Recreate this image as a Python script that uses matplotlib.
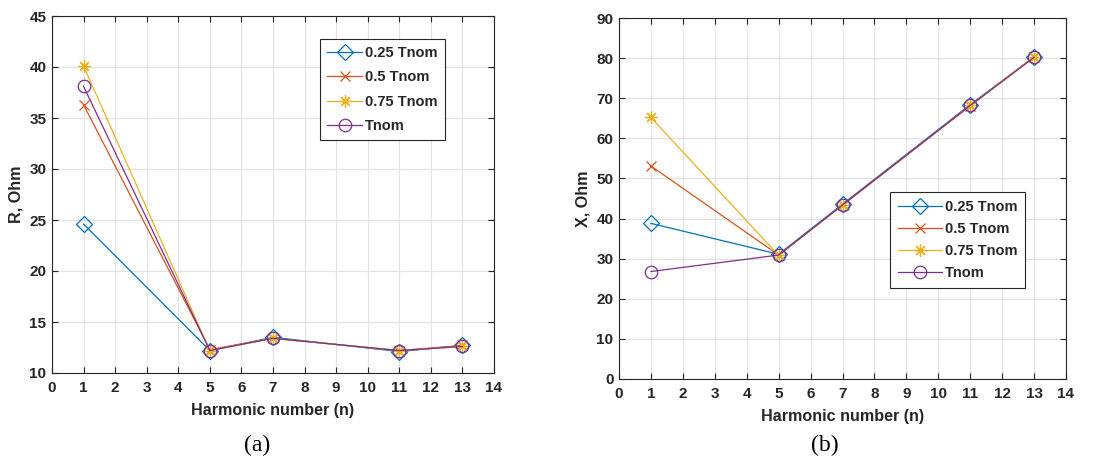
"""Harmonic resistance and reactance for several loading levels."""

import matplotlib
matplotlib.use("Agg")
import matplotlib.pyplot as plt

harmonics = [1, 5, 7, 11, 13]
labels = ["0.25 Tnom", "0.5 Tnom", "0.75 Tnom", "Tnom"]

r_025 = [24.6, 12.2, 13.5, 12.1, 12.7]
r_050 = [36.3, 12.3, 13.4, 12.2, 12.7]
r_075 = [40.1, 12.2, 13.4, 12.2, 12.6]
r_100 = [38.1, 12.2, 13.4, 12.2, 12.6]

x_025 = [38.8, 31.1, 43.6, 68.4, 80.3]
x_050 = [53.1, 30.9, 43.3, 68.1, 80.2]
x_075 = [65.2, 30.8, 43.4, 68.2, 80.4]
x_100 = [26.8, 30.9, 43.4, 68.2, 80.2]

COLORS = ["#0072BD", "#D95319", "#EDB120", "#7E2F8E"]
MARKERS = ["D", "x", (8, 2, 0), "o"]
MSIZES = [8, 7, 9, 9]
TEXT = "#262626"

plt.rcParams["font.family"] = ["Liberation Sans", "DejaVu Sans"]
plt.rcParams["font.weight"] = "bold"


def style_axes(ax, ylim, yticks, ylabel):
    ax.set_xlim(0, 14)
    ax.set_xticks(range(0, 15))
    ax.set_ylim(*ylim)
    ax.set_yticks(yticks)
    ax.grid(True, color="#e3e3e3", linewidth=0.9)
    ax.set_axisbelow(True)
    ax.tick_params(direction="in", top=True, right=True, length=4, width=0.8,
                   colors=TEXT, labelsize=11)
    ax.tick_params(axis="x", pad=6)
    ax.tick_params(axis="y", pad=4)
    for lbl in ax.get_xticklabels() + ax.get_yticklabels():
        lbl.set_fontweight("bold")
    for spine in ax.spines.values():
        spine.set_color(TEXT)
        spine.set_linewidth(0.8)
    ax.set_xlabel("Harmonic number (n)", fontsize=11.6, fontweight="bold", color=TEXT, labelpad=5.5)
    ax.set_ylabel(ylabel, fontsize=11.6, fontweight="bold", color=TEXT, labelpad=4)


def draw_series(ax, series):
    for ys, label, color, marker, ms in zip(series, labels, COLORS, MARKERS, MSIZES):
        ax.plot(harmonics, ys, color=color, linewidth=0.9, marker=marker,
                markersize=ms, markerfacecolor="none", markeredgecolor=color,
                markeredgewidth=0.9, label=label)


def add_legend(ax, anchor, spacing, pad, handle):
    leg = ax.legend(loc="upper left", bbox_to_anchor=anchor, borderaxespad=0,
                    handlelength=handle, handletextpad=0.2, borderpad=pad,
                    labelspacing=spacing, fancybox=False, edgecolor=TEXT,
                    framealpha=1, prop={"size": 10.5, "weight": "bold"})
    leg.get_frame().set_linewidth(0.8)
    for t in leg.get_texts():
        t.set_color(TEXT)
    return leg


fig = plt.figure(figsize=(11.06, 4.57), dpi=100)
W, H = 1106, 457
ax_a = fig.add_axes([52 / W, 1 - 373 / H, (494 - 52) / W, (373 - 16) / H])
ax_b = fig.add_axes([619 / W, 1 - 379 / H, (1066 - 619) / W, (379 - 18) / H])

draw_series(ax_a, [r_025, r_050, r_075, r_100])
style_axes(ax_a, (10, 45), range(10, 46, 5), "R, Ohm")
add_legend(ax_a, (0.606, 0.936), 0.71, 0.5, 2.4)

draw_series(ax_b, [x_025, x_050, x_075, x_100])
style_axes(ax_b, (0, 90), range(0, 91, 10), "X, Ohm")
add_legend(ax_b, (0.606, 0.518), 0.54, 0.55, 3.0)

fig.text(257 / W, 1 - 445 / H, "(a)", ha="center", va="center", fontsize=17,
         family="Liberation Serif", fontweight="normal", color="black")
fig.text(825 / W, 1 - 445 / H, "(b)", ha="center", va="center", fontsize=17,
         family="Liberation Serif", fontweight="normal", color="black")

fig.savefig("out.png", dpi=100)
